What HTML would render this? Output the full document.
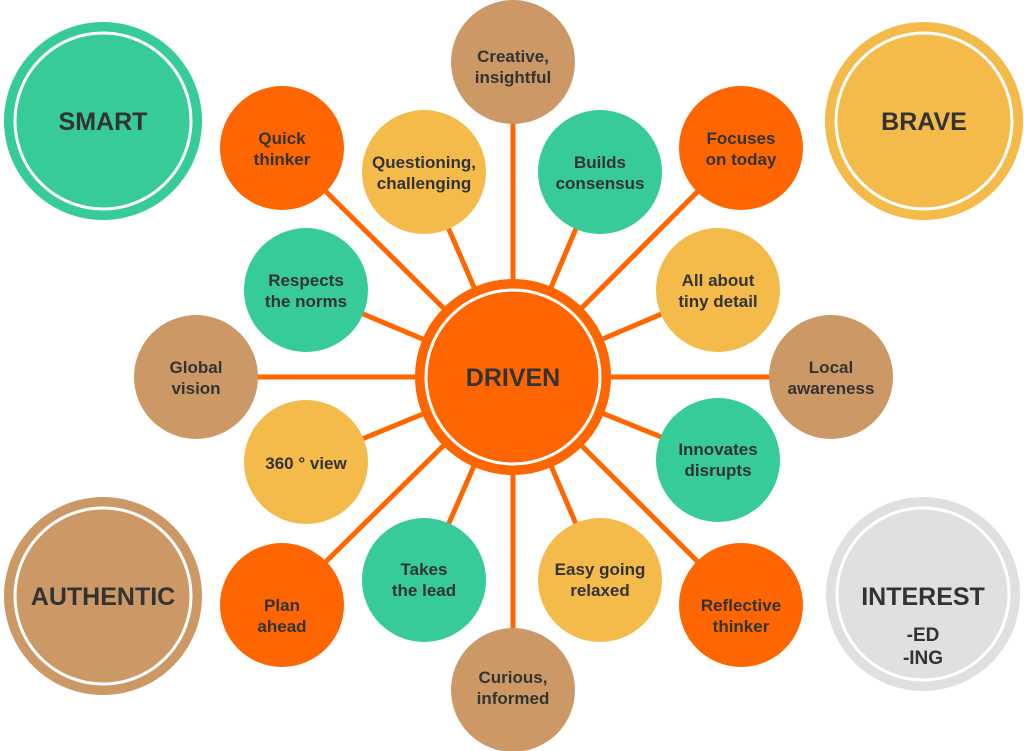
<!DOCTYPE html>
<html><head><meta charset="utf-8"><style>
html,body{margin:0;padding:0;background:#fff;}
svg{display:block;}
text{font-family:"Liberation Sans",sans-serif;font-weight:bold;fill:#333;text-anchor:middle;}
.s{font-size:17px;}
.b{font-size:25px;}
.m{font-size:19px;}
</style></head><body>
<svg width="1024" height="751" viewBox="0 0 1024 751" xmlns="http://www.w3.org/2000/svg">
<g stroke="#ff6600" stroke-width="5">
<line x1="513" y1="377" x2="513" y2="62"/>
<line x1="513" y1="377" x2="282" y2="148"/>
<line x1="513" y1="377" x2="424" y2="172"/>
<line x1="513" y1="377" x2="600" y2="172"/>
<line x1="513" y1="377" x2="741" y2="148"/>
<line x1="513" y1="377" x2="306" y2="290"/>
<line x1="513" y1="377" x2="718" y2="290"/>
<line x1="513" y1="377" x2="196" y2="377"/>
<line x1="513" y1="377" x2="831" y2="377"/>
<line x1="513" y1="377" x2="306" y2="462"/>
<line x1="513" y1="377" x2="718" y2="460"/>
<line x1="513" y1="377" x2="282" y2="605"/>
<line x1="513" y1="377" x2="424" y2="580"/>
<line x1="513" y1="377" x2="600" y2="580"/>
<line x1="513" y1="377" x2="741" y2="605"/>
<line x1="513" y1="377" x2="513" y2="690"/>
</g>
<circle cx="103" cy="121" r="99" fill="#36cb98"/><circle cx="103" cy="121" r="88" fill="none" stroke="#fff" stroke-width="3"/>
<text class="b" x="103" y="130">SMART</text>
<circle cx="924" cy="121" r="99" fill="#f4bb4a"/><circle cx="924" cy="121" r="88" fill="none" stroke="#fff" stroke-width="3"/>
<text class="b" x="924" y="130">BRAVE</text>
<circle cx="103" cy="596" r="99" fill="#cc9966"/><circle cx="103" cy="596" r="88" fill="none" stroke="#fff" stroke-width="3"/>
<text class="b" x="103" y="605">AUTHENTIC</text>
<circle cx="923" cy="594" r="97" fill="#e0e0e0"/><circle cx="923" cy="594" r="86" fill="none" stroke="#fff" stroke-width="3"/>
<text class="b" x="923" y="605">INTEREST</text>
<text class="m" x="923" y="641">-ED</text>
<text class="m" x="923" y="664">-ING</text>
<circle cx="513" cy="377" r="98" fill="#ff6600"/><circle cx="513" cy="377" r="87" fill="none" stroke="#fff" stroke-width="3"/>
<text class="b" x="513" y="386">DRIVEN</text>
<g>
<circle cx="513" cy="62" r="62" fill="#cc9966"/><text class="s" x="513" y="62">Creative,</text><text class="s" x="513" y="83">insightful</text>
<circle cx="282" cy="148" r="62" fill="#ff6600"/><text class="s" x="282" y="144">Quick</text><text class="s" x="282" y="165">thinker</text>
<circle cx="424" cy="172" r="62" fill="#f4bb4a"/><text class="s" x="424" y="168">Questioning,</text><text class="s" x="424" y="189">challenging</text>
<circle cx="600" cy="172" r="62" fill="#36cb98"/><text class="s" x="600" y="168">Builds</text><text class="s" x="600" y="189">consensus</text>
<circle cx="741" cy="148" r="62" fill="#ff6600"/><text class="s" x="741" y="144">Focuses</text><text class="s" x="741" y="165">on today</text>
<circle cx="306" cy="290" r="62" fill="#36cb98"/><text class="s" x="306" y="286">Respects</text><text class="s" x="306" y="307">the norms</text>
<circle cx="718" cy="290" r="62" fill="#f4bb4a"/><text class="s" x="718" y="286">All about</text><text class="s" x="718" y="307">tiny detail</text>
<circle cx="196" cy="377" r="62" fill="#cc9966"/><text class="s" x="196" y="373">Global</text><text class="s" x="196" y="394">vision</text>
<circle cx="831" cy="377" r="62" fill="#cc9966"/><text class="s" x="831" y="373">Local</text><text class="s" x="831" y="394">awareness</text>
<circle cx="306" cy="462" r="62" fill="#f4bb4a"/><text class="s" x="306" y="469">360 ° view</text>
<circle cx="718" cy="460" r="62" fill="#36cb98"/><text class="s" x="718" y="455">Innovates</text><text class="s" x="718" y="476">disrupts</text>
<circle cx="282" cy="605" r="62" fill="#ff6600"/><text class="s" x="282" y="611">Plan</text><text class="s" x="282" y="632">ahead</text>
<circle cx="424" cy="580" r="62" fill="#36cb98"/><text class="s" x="424" y="575">Takes</text><text class="s" x="424" y="596">the lead</text>
<circle cx="600" cy="580" r="62" fill="#f4bb4a"/><text class="s" x="600" y="575">Easy going</text><text class="s" x="600" y="596">relaxed</text>
<circle cx="741" cy="605" r="62" fill="#ff6600"/><text class="s" x="741" y="611">Reflective</text><text class="s" x="741" y="632">thinker</text>
<circle cx="513" cy="690" r="62" fill="#cc9966"/><text class="s" x="513" y="683">Curious,</text><text class="s" x="513" y="704">informed</text>
</g>
</svg>
</body></html>
